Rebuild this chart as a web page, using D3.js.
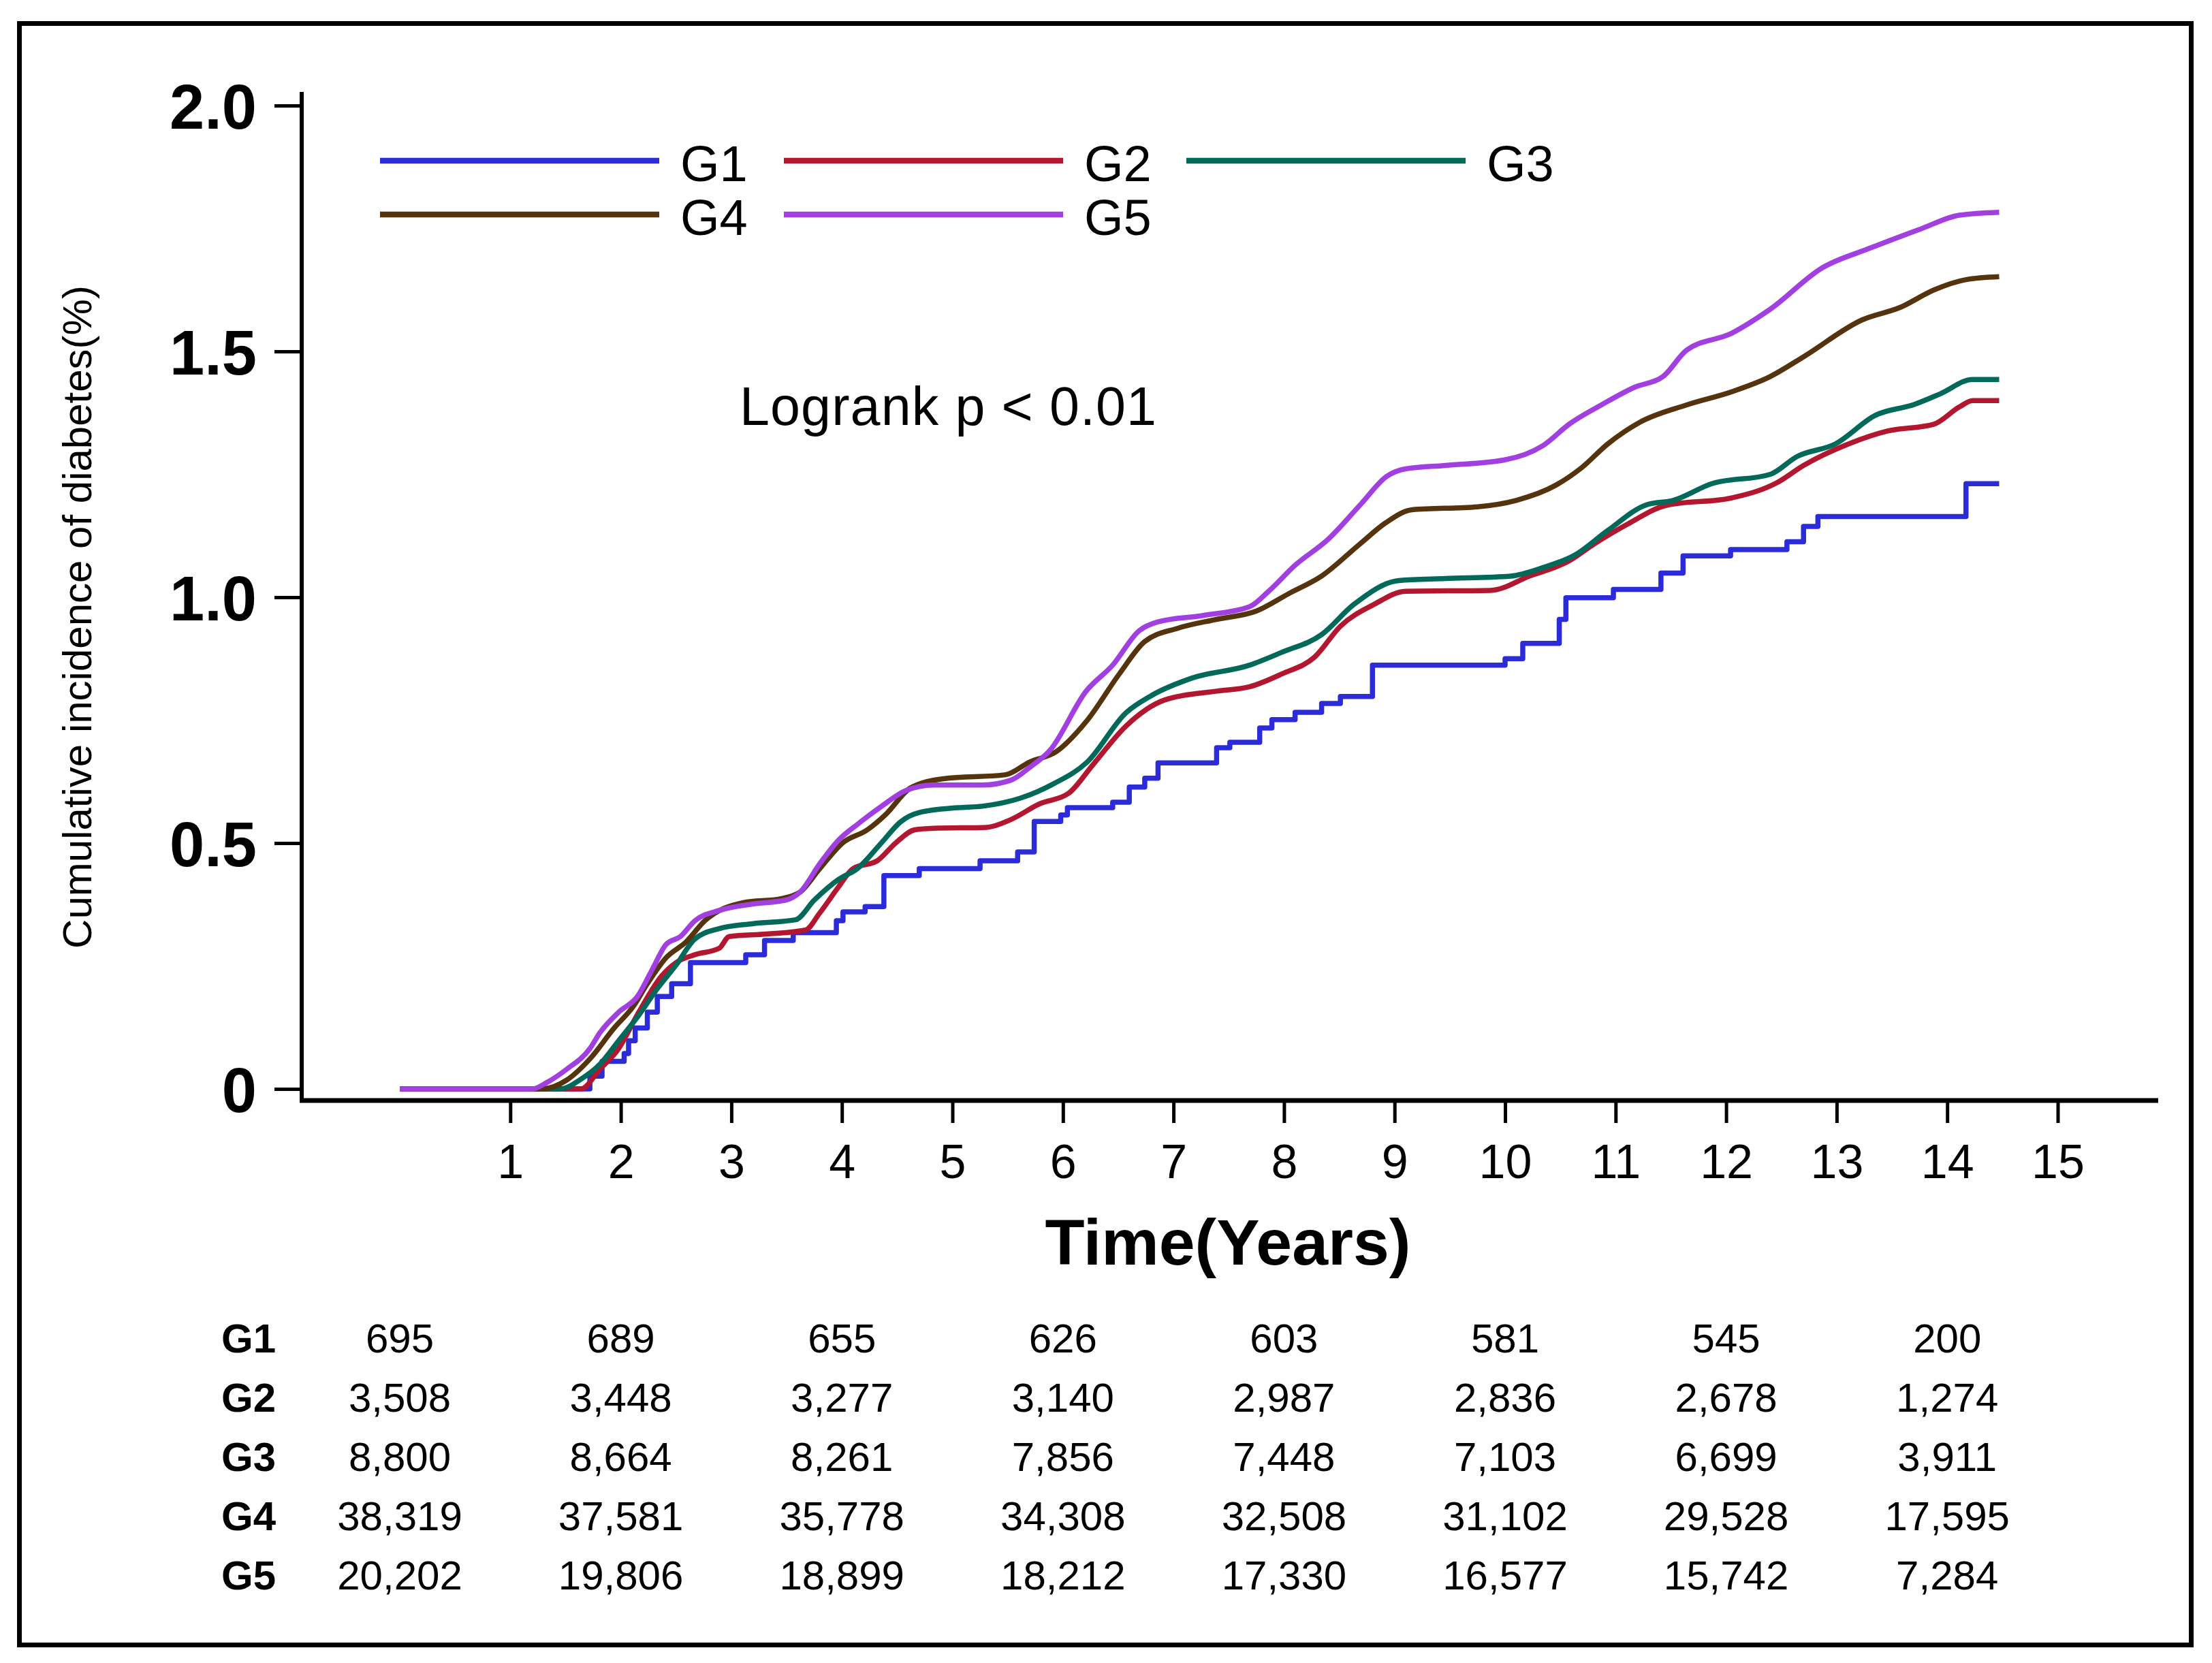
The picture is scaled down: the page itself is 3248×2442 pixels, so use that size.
<!DOCTYPE html>
<html>
<head>
<meta charset="utf-8">
<script src="https://cdn.jsdelivr.net/npm/d3@7"></script>
<style>
  html, body { margin: 0; padding: 0; background: #ffffff; }
  svg { display: block; }
  text { font-family: "Liberation Sans", Arial, sans-serif; fill: #000; }
</style>
</head>
<body>
<svg id="chart" width="3248" height="2442"></svg>
<script>
// ---------------- DATA ----------------
const groups = ["G1", "G2", "G3", "G4", "G5"];
const groupColors = ["#2b2bd9", "#b3172f", "#00695a", "#55330c", "#a23fe0"];

// cumulative incidence (%) vs time (years)
const g1Points = [[0,0],[1.64,0],[1.72,0.026],[1.83,0.056],[2.03,0.072],[2.07,0.098],[2.13,0.124],[2.24,0.156],[2.33,0.188],[2.46,0.214],[2.63,0.257],[3.13,0.273],[3.30,0.302],[3.56,0.318],[3.95,0.342],[4.01,0.360],[4.21,0.371],[4.38,0.434],[4.70,0.448],[5.25,0.464],[5.59,0.482],[5.74,0.544],[5.98,0.557],[6.04,0.572],[6.45,0.583],[6.60,0.614],[6.74,0.632],[6.86,0.663],[7.39,0.694],[7.51,0.705],[7.78,0.734],[7.89,0.751],[8.10,0.766],[8.34,0.784],[8.51,0.798],[8.80,0.862],[10.0,0.875],[10.16,0.906],[10.49,0.955],[10.55,0.999],[10.98,1.016],[11.41,1.049],[11.61,1.084],[12.04,1.097],[12.55,1.113],[12.70,1.144],[12.83,1.164],[14.17,1.231],[14.47,1.231]];
const g2Points = [[0,0],[1.64,0],[1.81,0.040],[1.98,0.082],[2.15,0.151],[2.37,0.230],[2.50,0.257],[2.67,0.273],[2.89,0.286],[2.98,0.310],[3.32,0.315],[3.67,0.323],[3.80,0.358],[3.97,0.411],[4.10,0.448],[4.32,0.464],[4.49,0.501],[4.66,0.527],[4.83,0.530],[5.31,0.532],[5.53,0.548],[5.79,0.580],[6.05,0.601],[6.27,0.659],[6.57,0.738],[6.92,0.791],[7.39,0.809],[7.69,0.818],[7.98,0.844],[8.28,0.879],[8.51,0.941],[8.81,0.985],[9.10,1.012],[9.87,1.014],[10.22,1.043],[10.58,1.074],[10.81,1.109],[11.11,1.149],[11.46,1.187],[12.05,1.202],[12.46,1.233],[12.70,1.268],[13.11,1.312],[13.46,1.338],[13.88,1.352],[14.11,1.387],[14.23,1.400],[14.47,1.400]];
const g3Points = [[0,0],[1.45,0],[1.64,0.020],[1.81,0.050],[1.98,0.098],[2.15,0.146],[2.33,0.204],[2.50,0.252],[2.67,0.305],[2.89,0.326],[3.19,0.336],[3.58,0.344],[3.75,0.384],[3.97,0.426],[4.14,0.448],[4.36,0.501],[4.53,0.543],[4.70,0.562],[5.05,0.572],[5.27,0.575],[5.61,0.591],[5.91,0.620],[6.22,0.665],[6.57,0.765],[6.80,0.800],[7.16,0.835],[7.69,0.862],[7.98,0.888],[8.34,0.924],[8.63,0.985],[9.04,1.034],[9.46,1.038],[10.05,1.043],[10.34,1.060],[10.64,1.087],[10.93,1.136],[11.28,1.188],[11.52,1.197],[11.87,1.231],[12.40,1.250],[12.64,1.286],[12.99,1.312],[13.35,1.370],[13.70,1.392],[13.94,1.414],[14.23,1.443],[14.47,1.443]];
const g4Points = [[0,0],[1.29,0],[1.51,0.018],[1.72,0.061],[1.94,0.124],[2.11,0.167],[2.24,0.214],[2.41,0.267],[2.59,0.299],[2.76,0.342],[3.11,0.379],[3.45,0.387],[3.62,0.400],[3.80,0.448],[4.01,0.501],[4.23,0.527],[4.40,0.559],[4.62,0.612],[4.92,0.631],[5.48,0.639],[5.70,0.665],[5.94,0.686],[6.21,0.747],[6.51,0.844],[6.74,0.910],[7.04,0.937],[7.39,0.955],[7.75,0.972],[8.04,1.007],[8.34,1.043],[8.69,1.109],[8.93,1.153],[9.16,1.178],[9.75,1.184],[10.10,1.197],[10.46,1.228],[10.69,1.263],[10.93,1.312],[11.22,1.356],[11.64,1.391],[12.05,1.418],[12.40,1.449],[12.70,1.489],[13.23,1.564],[13.58,1.590],[13.88,1.625],[14.17,1.646],[14.47,1.652]];
const g5Points = [[0,0],[1.20,0],[1.33,0.013],[1.51,0.040],[1.72,0.082],[1.81,0.114],[1.98,0.156],[2.15,0.188],[2.28,0.241],[2.41,0.294],[2.54,0.310],[2.67,0.342],[2.89,0.363],[3.19,0.376],[3.49,0.384],[3.62,0.400],[3.80,0.458],[3.97,0.506],[4.14,0.538],[4.36,0.575],[4.58,0.607],[4.83,0.618],[5.27,0.618],[5.53,0.628],[5.70,0.654],[5.88,0.688],[6.21,0.809],[6.45,0.862],[6.69,0.932],[6.86,0.950],[7.27,0.963],[7.69,0.981],[7.86,1.012],[8.10,1.065],[8.40,1.118],[8.69,1.188],[8.93,1.246],[9.10,1.261],[9.46,1.268],[9.99,1.279],[10.34,1.308],[10.58,1.352],[10.87,1.391],[11.17,1.427],[11.43,1.449],[11.64,1.502],[12.05,1.537],[12.40,1.586],[12.87,1.670],[13.29,1.709],[13.76,1.749],[14.11,1.777],[14.47,1.783]];

const xTickValues = [1,2,3,4,5,6,7,8,9,10,11,12,13,14,15];
const yTickValues = [0, 0.5, 1.0, 1.5, 2.0];
const yTickLabels = ["0", "0.5", "1.0", "1.5", "2.0"];

// numbers at risk
const riskTimes = [0, 2, 4, 6, 8, 10, 12, 14];
const riskG1 = ["695", "689", "655", "626", "603", "581", "545", "200"];
const riskG2 = ["3,508", "3,448", "3,277", "3,140", "2,987", "2,836", "2,678", "1,274"];
const riskG3 = ["8,800", "8,664", "8,261", "7,856", "7,448", "7,103", "6,699", "3,911"];
const riskG4 = ["38,319", "37,581", "35,778", "34,308", "32,508", "31,102", "29,528", "17,595"];
const riskG5 = ["20,202", "19,806", "18,899", "18,212", "17,330", "16,577", "15,742", "7,284"];

const xTitle = "Time(Years)";
const yTitle = "Cumulative incidence of diabetes(%)";
const pText = "Logrank p < 0.01";

// ---------------- DRAW ----------------
const svg = d3.select("#chart");
svg.append("rect").attr("width", 3248).attr("height", 2442).attr("fill", "#fff");

// outer frame
svg.append("rect")
  .attr("x", 28.5).attr("y", 34.5).attr("width", 3189).attr("height", 2381)
  .attr("fill", "none").attr("stroke", "#000").attr("stroke-width", 7);

const x = d3.scaleLinear().domain([0, 15]).range([587, 587 + 162.3 * 15]);
const y = d3.scaleLinear().domain([0, 2]).range([1599, 155]);

const axisX0 = 443;      // y-axis line position
const axisY0 = 1616;     // x-axis line position

// Y axis
const yAxis = svg.append("g")
  .attr("transform", `translate(${axisX0},0)`)
  .call(d3.axisLeft(y).tickValues(yTickValues)
        .tickFormat((d, i) => yTickLabels[i]).tickSize(40).tickPadding(26));
yAxis.select(".domain").remove();
yAxis.selectAll(".tick line").attr("stroke", "#000").attr("stroke-width", 5);
yAxis.selectAll(".tick text")
  .attr("font-family", '"Open Sans", "Noto Sans", "Liberation Sans", Arial, sans-serif')
  .attr("font-size", 92).attr("font-weight", 600).attr("dy", "0.36em");
svg.append("line").attr("x1", axisX0).attr("x2", axisX0)
  .attr("y1", 135).attr("y2", axisY0 + 3)
  .attr("stroke", "#000").attr("stroke-width", 6);

// X axis
const xAxis = svg.append("g")
  .attr("transform", `translate(0,${axisY0 + 3})`)
  .call(d3.axisBottom(x).tickValues(xTickValues).tickFormat(d3.format("d")).tickSize(30));
xAxis.select(".domain").remove();
xAxis.selectAll(".tick line").attr("stroke", "#000").attr("stroke-width", 5);
xAxis.selectAll(".tick text")
  .attr("font-family", '"Liberation Sans", Arial, sans-serif')
  .attr("font-size", 70).attr("y", 1730 - axisY0 - 3).attr("dy", 0);
svg.append("line").attr("x1", axisX0 - 3).attr("x2", 3169)
  .attr("y1", axisY0).attr("y2", axisY0)
  .attr("stroke", "#000").attr("stroke-width", 7);

// titles
svg.append("text").attr("x", 1803).attr("y", 1857)
  .attr("text-anchor", "middle").attr("font-size", 95).attr("font-weight", "bold")
  .text(xTitle);
svg.append("text").attr("transform", "translate(134,906) rotate(-90)")
  .attr("text-anchor", "middle").attr("font-size", 60)
  .text(yTitle);
svg.append("text").attr("x", 1086).attr("y", 624)
  .attr("font-size", 79).attr("textLength", 612).attr("lengthAdjust", "spacing")
  .text(pText);

// curves
const seriesPoints = [g1Points, g2Points, g3Points, g4Points, g5Points];
const stepLine = d3.line().x(d => x(d[0])).y(d => y(d[1])).curve(d3.curveStepAfter);
const smoothLine = d3.line().x(d => x(d[0])).y(d => y(d[1])).curve(d3.curveMonotoneX);
seriesPoints.forEach((pts, i) => {
  svg.append("path")
    .attr("d", i === 0 ? stepLine(pts) : smoothLine(pts))
    .attr("fill", "none")
    .attr("stroke", groupColors[i])
    .attr("stroke-width", 7.5)
    .attr("stroke-linejoin", "round");
});

// legend
const legendPos = [[558, 236], [1151, 236], [1742, 236], [558, 315], [1151, 315]];
groups.forEach((g, i) => {
  const [lx, ly] = legendPos[i];
  svg.append("line").attr("x1", lx).attr("x2", lx + 410)
    .attr("y1", ly).attr("y2", ly)
    .attr("stroke", groupColors[i]).attr("stroke-width", 8.5);
  svg.append("text").attr("x", lx + 441).attr("y", ly + 30)
    .attr("font-size", 74).text(g);
});

// numbers at risk table
const riskRows = [riskG1, riskG2, riskG3, riskG4, riskG5];
riskRows.forEach((row, r) => {
  const cy = 1964 + 87 * r;
  svg.append("text").attr("x", 325).attr("y", cy + 21.5)
    .attr("font-size", 60).attr("font-weight", "bold").text(groups[r]);
  row.forEach((val, c) => {
    svg.append("text").attr("x", x(riskTimes[c])).attr("y", cy + 21.5)
      .attr("text-anchor", "middle").attr("font-size", 60).text(val);
  });
});
</script>
</body>
</html>
